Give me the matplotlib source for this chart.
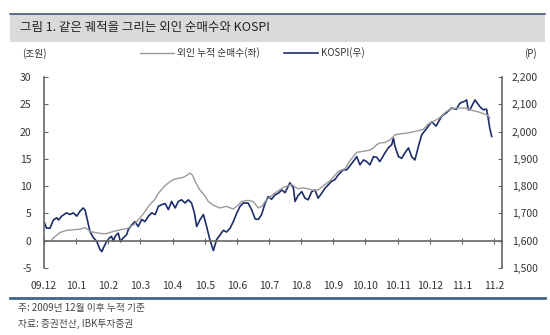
import numpy as np
import matplotlib
matplotlib.use("Agg")
import matplotlib.pyplot as plt
from matplotlib.patches import Rectangle
from matplotlib.lines import Line2D

plt.rcParams['font.family'] = ['Noto Sans CJK KR', 'DejaVu Sans']
plt.rcParams['axes.unicode_minus'] = False

# month labels (tick at each month start, 09.12 = 0)
month_labels = ['09.12', '10.1', '10.2', '10.3', '10.4', '10.5', '10.6', '10.7',
                '10.8', '10.9', '10.10', '10.11', '10.12', '11.1', '11.2']

# KOSPI (right axis), position in months since 09.12
kospi_t = [0.00, 0.08, 0.19, 0.29, 0.40, 0.45, 0.55, 0.70, 0.81, 0.91, 1.02, 1.12, 1.22, 1.28,
           1.38, 1.43, 1.53, 1.64, 1.74, 1.80, 1.85, 1.95, 2.05, 2.10, 2.16, 2.21, 2.31, 2.38,
           2.46, 2.57, 2.62, 2.73, 2.83, 2.93, 3.04, 3.14, 3.25, 3.35, 3.46, 3.56, 3.66, 3.77,
           3.87, 3.97, 4.08, 4.18, 4.28, 4.39, 4.49, 4.59, 4.68, 4.75, 4.85, 4.96, 5.06, 5.16,
           5.27, 5.37, 5.48, 5.58, 5.68, 5.79, 5.89, 6.00, 6.10, 6.20, 6.35, 6.46, 6.57, 6.67,
           6.77, 6.88, 6.98, 7.08, 7.19, 7.29, 7.40, 7.50, 7.65, 7.76, 7.81, 7.91, 8.02, 8.12,
           8.22, 8.33, 8.43, 8.53, 8.64, 8.74, 8.95, 9.05, 9.16, 9.31, 9.42, 9.62, 9.73, 9.83,
           9.94, 10.04, 10.14, 10.25, 10.35, 10.45, 10.61, 10.71, 10.82, 10.87, 10.92, 11.03,
           11.13, 11.23, 11.34, 11.44, 11.54, 11.65, 11.75, 11.91, 12.06, 12.20, 12.37, 12.53,
           12.68, 12.83, 12.94, 13.10, 13.15, 13.20, 13.25, 13.41, 13.57, 13.67, 13.77, 13.82,
           13.87, 13.93]
kospi = [1670, 1646, 1646, 1676, 1684, 1676, 1690, 1702, 1696, 1702, 1690, 1708, 1720, 1712,
         1660, 1634, 1612, 1598, 1568, 1560, 1574, 1598, 1612, 1616, 1598, 1616, 1628, 1596,
         1610, 1622, 1640, 1658, 1670, 1652, 1678, 1670, 1690, 1702, 1696, 1726, 1732, 1736,
         1714, 1744, 1720, 1744, 1750, 1738, 1750, 1738, 1702, 1652, 1676, 1696, 1652, 1604,
         1564, 1604, 1622, 1638, 1632, 1646, 1670, 1702, 1726, 1738, 1738, 1714, 1680, 1678,
         1696, 1738, 1762, 1752, 1768, 1774, 1786, 1776, 1812, 1794, 1744, 1766, 1780, 1756,
         1750, 1780, 1786, 1756, 1774, 1792, 1818, 1824, 1842, 1860, 1860, 1890, 1908, 1878,
         1896, 1890, 1878, 1908, 1906, 1890, 1922, 1940, 1952, 1976, 1946, 1908,
         1902, 1922, 1940, 1908, 1896, 1946, 1988, 2012, 2036, 2020, 2056, 2070,
         2086, 2082, 2104, 2112, 2116, 2080, 2080, 2116, 2090, 2080, 2082, 2050,
         2012, 1982]

# foreign cumulative net buying (left axis, trillion won)
foreign_t = [0.24, 0.35, 0.50, 0.70, 0.90, 1.10, 1.28, 1.43, 1.59, 1.80, 1.95, 2.10, 2.30, 2.62,
             2.80, 2.93, 3.10, 3.25, 3.45, 3.56, 3.75, 3.87, 4.02, 4.15, 4.33, 4.45, 4.54, 4.62,
             4.70, 4.85, 5.00, 5.11, 5.27, 5.48, 5.68, 5.89, 6.05, 6.15, 6.35, 6.50, 6.67, 6.78,
             6.88, 7.03, 7.20, 7.40, 7.50, 7.70, 7.91, 8.07, 8.22, 8.40, 8.53, 8.74, 8.90, 9.05,
             9.16, 9.37, 9.50, 9.73, 9.95, 10.14, 10.25, 10.35, 10.45, 10.61, 10.77, 10.92, 11.10,
             11.28, 11.45, 11.60, 11.80, 11.96, 12.22, 12.37, 12.50, 12.68, 12.85, 13.10, 13.30,
             13.46, 13.72, 13.80, 13.87]
foreign = [0.2, 0.8, 1.5, 1.9, 2.0, 2.1, 2.4, 1.7, 1.5, 1.3, 1.3, 1.6, 1.9, 2.3,
           3.0, 3.8, 5.0, 6.3, 7.6, 8.7, 10.0, 10.6, 11.2, 11.4, 11.6, 12.0, 12.4, 12.0,
           10.9, 9.3, 8.3, 7.2, 6.5, 6.0, 6.3, 5.8, 6.6, 7.2, 7.4, 7.2, 6.0, 6.3,
           7.2, 8.0, 8.8, 9.6, 9.9, 10.3, 9.5, 9.7, 9.5, 9.2, 9.3, 10.3, 11.0, 12.0,
           12.7, 13.2, 14.5, 16.2, 16.4, 16.6, 17.0, 17.6, 17.9, 18.0, 18.5, 19.4, 19.6,
           19.7, 19.9, 20.1, 20.4, 21.4, 22.2, 22.8, 23.6, 24.2, 24.3, 24.3, 23.9,
           23.7, 23.2, 23.0, 22.5]

gray_c = '#9a9a9a'
navy_c = '#1c2d6b'
axis_c = '#666666'
text_c = '#333333'

fig = plt.figure(figsize=(5.5, 3.35), dpi=100)

# header band
fig.patches.append(Rectangle((10 / 550, 1 - 42 / 335), 535 / 550, 28 / 335,
                             transform=fig.transFigure, facecolor='#dadada', edgecolor='none'))
fig.add_artist(Line2D([10 / 550, 545 / 550], [1 - 14 / 335, 1 - 14 / 335],
                      transform=fig.transFigure, color='#2b4b7b', lw=1.1))
fig.text(20 / 550, 1 - 28 / 335, '그림 1. 같은 궤적을 그리는 외인 순매수와 KOSPI',
         fontsize=9, color='#222222', va='center', ha='left')

ax = fig.add_axes([44 / 550, 1 - 268 / 335, 458 / 550, 191 / 335])
ax2 = ax.twinx()

l1, = ax.plot(foreign_t, foreign, color=gray_c, lw=1.0)
l2, = ax2.plot(kospi_t, kospi, color=navy_c, lw=1.2)

ax.set_xlim(0, 14.25)
ax.set_ylim(-5, 30)
ax2.set_ylim(1500, 2200)
ax.set_yticks(np.arange(-5, 31, 5))
ax2.set_yticks(np.arange(1500, 2201, 100))
ax2.set_yticklabels(['{:,}'.format(v) for v in range(1500, 2201, 100)])

ax.set_xticks(range(len(month_labels)))
ax.set_xticklabels(month_labels)

for a in (ax, ax2):
    a.spines['top'].set_visible(False)
    a.spines['bottom'].set_visible(False)
ax.spines['right'].set_visible(False)
ax2.spines['left'].set_visible(False)
ax.spines['left'].set_color(axis_c)
ax.spines['left'].set_linewidth(1.2)
ax2.spines['right'].set_color(axis_c)
ax2.spines['right'].set_linewidth(1.2)

# zero line acts as the x axis
ax.spines['bottom'].set_visible(True)
ax.spines['bottom'].set_position(('data', 0))
ax.spines['bottom'].set_color(axis_c)
ax.spines['bottom'].set_linewidth(1.2)
ax.tick_params(axis='x', direction='inout', length=4, color=axis_c, pad=27,
               labelsize=7.5, labelcolor=text_c)
ax.tick_params(axis='y', direction='in', length=3, color=axis_c, pad=9,
               labelsize=7.5, labelcolor=text_c)
ax2.tick_params(axis='y', direction='in', length=3, color=axis_c, pad=7,
                labelsize=7.5, labelcolor=text_c)
ax.set_zorder(ax2.get_zorder() + 1)
ax.patch.set_visible(False)

# legend row
fig.text(22 / 550, 1 - 54 / 335, '(조원)', fontsize=7, color=text_c, va='center')
fig.text(530 / 550, 1 - 54 / 335, '(P)', fontsize=7, color=text_c, va='center', ha='center')
fig.legend([l1, l2], ['외인 누적 순매수(좌)', 'KOSPI(우)'], loc='center',
           bbox_to_anchor=(252 / 550, 1 - 53 / 335), ncol=2, frameon=False,
           fontsize=7, handlelength=3.5, handletextpad=0.3, columnspacing=2.5,
           labelcolor=text_c)

# bottom rule and notes
fig.add_artist(Line2D([10 / 550, 545 / 550], [1 - 298 / 335, 1 - 298 / 335],
                      transform=fig.transFigure, color='#3d6591', lw=2))
fig.text(18 / 550, 1 - 308 / 335, '주: 2009년 12월 이후 누적 기준', fontsize=7,
         color='#444444', va='center')
fig.text(18 / 550, 1 - 324 / 335, '자료: 증권전산, IBK투자증권', fontsize=7,
         color='#444444', va='center')

fig.savefig('out.png', dpi=100)
